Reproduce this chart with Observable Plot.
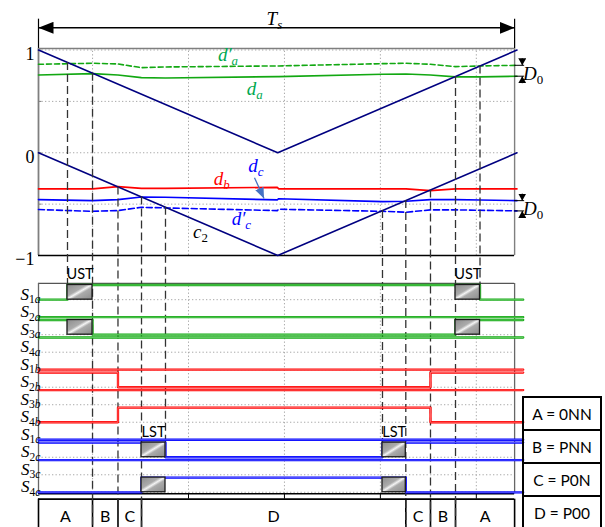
<!DOCTYPE html>
<html>
<head>
<meta charset="utf-8">
<script src="https://cdn.jsdelivr.net/npm/d3@7"></script>
<script src="https://cdn.jsdelivr.net/npm/@observablehq/plot@0.6"></script>
<style>
  html, body { margin: 0; padding: 0; background: #fff; }
  #figure { position: relative; width: 605px; height: 527px; overflow: hidden; background: #fff; }
  #figure > svg { position: absolute; left: 0; top: 0; overflow: visible; }
  #states { position: absolute; left: 522px; top: 396px; width: 80px; box-sizing: border-box;
            border-left: 2px solid #000; border-right: 2px solid #000;
            font-family: Lato, "Open Sans", sans-serif; font-size: 15.5px; color: #000; }
  #states div { box-sizing: border-box; height: 33px; border-top: 2px solid #000;
                display: flex; align-items: center; justify-content: center; white-space: pre; }
</style>
</head>
<body>
<div id="figure"></div>
<script>
// ---------------------------------------------------------------------------
// Data. Time is a fraction of the switching period Ts.
// ---------------------------------------------------------------------------
const gridT = [0.113, 0.3135, 0.514, 0.7145, 0.915];
const gridV = [-1, -0.5, 0, 0.5, 1];
const tickV = [1, 0, -1];
const tickText = ["1", "0", "\u22121"];

// triangular carriers (upper c1 and lower c2)
const carrierT = [0, 0.5, 1];
const carrierUpper = [1, 0, 1];
const carrierLower = [0, -1, 0];

// modulating signals sampled at the breakpoints of one period
const dutyT  = [0, 0.113, 0.166, 0.215, 0.265, 0.499, 0.502, 0.719, 0.768, 0.819, 0.8715, 0.923, 1];
const dutyA2 = [0.861, 0.871, 0.864, 0.828, 0.835, 0.845, 0.845, 0.867, 0.871, 0.861, 0.838, 0.845, 0.851];
const dutyA  = [0.757, 0.770, 0.757, 0.731, 0.728, 0.741, 0.741, 0.764, 0.767, 0.757, 0.738, 0.738, 0.745];
const dutyB  = [-0.352, -0.352, -0.330, -0.347, -0.347, -0.337, -0.352, -0.352, -0.352, -0.369, -0.352, -0.352, -0.352];
const dutyC  = [-0.456, -0.466, -0.456, -0.430, -0.433, -0.459, -0.447, -0.476, -0.472, -0.456, -0.456, -0.460, -0.466];
const dutyC2 = [-0.553, -0.570, -0.563, -0.531, -0.537, -0.563, -0.550, -0.570, -0.579, -0.556, -0.556, -0.560, -0.566];

// switching instants (carrier crossings), which carrier they sit on,
// and how far down the dashed marker runs
const switchNames   = ["a1", "a2", "b1", "c1", "c2", "c3", "c4", "b2", "a3", "a4"];
const switchT       = [0.0606, 0.1129, 0.1661, 0.2153, 0.2654, 0.7189, 0.7676, 0.8192, 0.8715, 0.9227];
const switchCarrier = ["upper", "upper", "lower", "lower", "lower", "lower", "lower", "lower", "upper", "upper"];
const switchReach   = ["S1a", "table", "table", "table", "S2c", "S2c", "table", "table", "table", "S1a"];

// gate signals
const signalNames   = ["S1a", "S2a", "S3a", "S4a", "S1b", "S2b", "S3b", "S4b", "S1c", "S2c", "S3c", "S4c"];
const signalLabels  = ["S_1a", "S_2a", "S_3a", "S_4a", "S_1b", "S_2b", "S_3b", "S_4b", "S_1c", "S_2c", "S_3c", "S_4c"];
const signalPhase   = ["a", "a", "a", "a", "b", "b", "b", "b", "c", "c", "c", "c"];
const signalStart   = [0, 0, 1, 1, 0, 1, 1, 0, 0, 1, 1, 0];
const signalToggles = [["a1", "a4"], [], ["a2", "a3"], [], [], ["b1", "b2"], [], ["b1", "b2"], [], ["c2", "c3"], [], ["c1", "c4"]];

// overlapping transition intervals
const boxLabel = ["UST", "UST", "LST", "LST"];
const boxFrom  = ["a1", "a3", "c1", "c3"];
const boxTo    = ["a2", "a4", "c2", "c4"];
const boxLanes = [["S1a", "S3a"], ["S1a", "S3a"], ["S2c", "S4c"], ["S2c", "S4c"]];

// switching states across the period
const stateNames = ["A", "B", "C", "D", "C", "B", "A"];
const stateEdges = ["a2", "b1", "c1", "c4", "b2", "a3"];
const legendText = ["A = 0NN", "B = PNN", "C = P0N", "D = P00"];

// ---------------------------------------------------------------------------
// Layout (y is in carrier units; the gate lanes continue below -1)
// ---------------------------------------------------------------------------
const frameEnd = 0.995;
const tail = 1.013;
const panelTop = 1.015;
const periodY = 1.216, periodTop = 1.30;
const laneLow0 = -1.430, lanePitch = 0.1704, laneSwing = 0.143;
const lane = (i, on) => laneLow0 - i * lanePitch + (on ? laneSwing : 0);
const laneIndex = Object.fromEntries(signalNames.map((n, i) => [n, i]));
const lowerTop = lane(0, 1) + 0.015;
const lowerBottom = lane(11, 0) - 0.015;
const tableTop = lane(11, 0) - 0.067;
const tableBottom = lane(11, 0) - 0.36;
const tableMid = lane(11, 0) - 0.236;

const green = "#12a812", greenText = "#00a850", red = "#ff0000", blue = "#0000ff", navy = "#000080";
const phaseColor = {a: "#14aa14", b: "#ff0000", c: "#0000ff"};
const phaseTint = {a: "#8fdc8f", b: "#ff9c9c", c: "#9090ff"};
const gridGray = "#a8a8a8", frameGray = "#7f7f7f";
const mathFont = "Liberation Serif, DejaVu Serif, serif";
const sansFont = "Lato, Open Sans, sans-serif";

// ---------------------------------------------------------------------------
// Derived rows
// ---------------------------------------------------------------------------
const tOf = Object.fromEntries(switchNames.map((n, i) => [n, switchT[i]]));
const carrierAt = {
  upper: d3.scaleLinear(carrierT, carrierUpper),
  lower: d3.scaleLinear(carrierT, carrierLower)
};
const series = (values) => dutyT.map((t, i) => ({t, v: values[i]}));
const carrierRows = (values) => carrierT.map((t, i) => ({t, v: values[i]}));

const switches = switchNames.map((n, i) => ({
  t: switchT[i],
  from: carrierAt[switchCarrier[i]](switchT[i]),
  to: switchReach[i] === "table" ? tableBottom : lane(laneIndex[switchReach[i]], 1)
}));

const signalPoints = (phase) => signalNames.flatMap((name, i) => {
  if (signalPhase[i] !== phase) return [];
  let s = signalStart[i];
  const pts = [{name, t: 0, y: lane(i, s)}];
  for (const k of signalToggles[i]) { s = 1 - s; pts.push({name, t: tOf[k], y: lane(i, s)}); }
  pts.push({name, t: tail, y: lane(i, s)});
  return pts;
});

const boxes = boxLabel.flatMap((label, k) => boxLanes[k].map((nm, j) => ({
  label: j === 0 ? label : null,
  x1: tOf[boxFrom[k]], x2: tOf[boxTo[k]],
  y1: lane(laneIndex[nm], 0), y2: lane(laneIndex[nm], 1)
})));

const edges = [0, ...stateEdges.map((k) => tOf[k]), frameEnd];
const states = stateNames.map((s, i) => ({s, x1: edges[i], x2: edges[i + 1]}));

const last = (a) => a[a.length - 1];
const d0Pairs = [[last(dutyA2), last(dutyA)], [last(dutyC), last(dutyC2)]];

// ---------------------------------------------------------------------------
// Marks
// ---------------------------------------------------------------------------
const dotted = {stroke: gridGray, strokeWidth: 1, strokeDasharray: "1.3,2.2"};

const svg = Plot.plot({
  width: 605,
  height: 527,
  x: {domain: [0, 1], range: [38, 516.5], axis: null},
  y: {domain: [-1, 1], range: [255, 49.5], axis: null},
  style: {background: "white", overflow: "visible"},
  marks: [
    // grids
    Plot.ruleY(gridV, {x1: 0, x2: frameEnd, ...dotted}),
    Plot.ruleX(gridT, {y1: -1, y2: panelTop, ...dotted}),
    Plot.ruleY(signalNames.map((_, i) => lane(i, 0)), {x1: 0, x2: frameEnd, ...dotted}),
    Plot.ruleX(gridT, {y1: lowerBottom, y2: lowerTop, ...dotted}),

    // upper panel frame
    Plot.ruleY([panelTop], {x1: 0, x2: frameEnd, stroke: frameGray, strokeWidth: 1.4}),
    Plot.ruleX([frameEnd], {y1: -1, y2: panelTop, stroke: frameGray, strokeWidth: 1.4}),
    Plot.ruleX([0], {y1: -1, y2: panelTop, stroke: frameGray, strokeWidth: 1.8}),
    Plot.ruleY(gridV, {x1: 0, x2: 0.007, stroke: frameGray, strokeWidth: 1}),
    Plot.ruleY([-1], {x1: 0, x2: frameEnd, stroke: "#000", strokeWidth: 1.4}),

    // lower panel frame, axis ticks and state table
    Plot.ruleY([lowerTop], {x1: 0, x2: frameEnd, stroke: "#555", strokeWidth: 1.3}),
    Plot.ruleX([0, frameEnd], {y1: lowerBottom, y2: lowerTop, stroke: "#666", strokeWidth: 1.3}),
    Plot.ruleY([lowerBottom], {x1: 0, x2: frameEnd, stroke: "#000", strokeWidth: 1.4}),
    Plot.ruleX(gridT, {y1: lowerBottom, y2: tableTop, stroke: "#000", strokeWidth: 1}),
    Plot.ruleY([tableTop], {x1: 0, x2: frameEnd, stroke: "#000", strokeWidth: 1.8}),
    Plot.ruleX(edges, {y1: tableTop, y2: tableBottom, stroke: "#000", strokeWidth: 1.6}),

    // period marker
    Plot.ruleX([0, frameEnd], {y1: panelTop, y2: periodTop, stroke: "#000", strokeWidth: 1.2}),
    Plot.link([0], {x1: 0, x2: frameEnd, y1: periodY, y2: periodY, stroke: "#000", strokeWidth: 1.4, ariaDescription: "period"}),

    // modulating signals
    Plot.line(series(dutyA2), {x: "t", y: "v", stroke: green, strokeWidth: 1.6, strokeDasharray: "5,3"}),
    Plot.line(series(dutyA), {x: "t", y: "v", stroke: green, strokeWidth: 1.6}),
    Plot.line(series(dutyB), {x: "t", y: "v", stroke: red, strokeWidth: 1.6}),
    Plot.line(series(dutyC), {x: "t", y: "v", stroke: blue, strokeWidth: 1.6}),
    Plot.line(series(dutyC2), {x: "t", y: "v", stroke: blue, strokeWidth: 1.6, strokeDasharray: "6,3"}),

    // carriers
    Plot.line(carrierRows(carrierUpper), {x: "t", y: "v", stroke: navy, strokeWidth: 1.6}),
    Plot.line(carrierRows(carrierLower), {x: "t", y: "v", stroke: navy, strokeWidth: 1.6}),

    // D0 offset markers
    Plot.ruleY(d0Pairs.flat(), {x1: frameEnd, x2: 1.016, stroke: "#000", strokeWidth: 1}),
    Plot.link(d0Pairs, {x1: 1.011, x2: 1.011, y1: (p) => p[0] + 0.068, y2: (p) => p[0], stroke: "#000", strokeWidth: 1, ariaDescription: "d0"}),
    Plot.link(d0Pairs, {x1: 1.011, x2: 1.011, y1: (p) => p[1] - 0.068, y2: (p) => p[1], stroke: "#000", strokeWidth: 1, ariaDescription: "d0"}),
    Plot.text(d0Pairs, {x: 1.0125, y: (p) => Math.min(...p), text: () => "D_0", textAnchor: "start", dy: -2,
      fontFamily: mathFont, fontSize: 19, ariaDescription: "math"}),

    // switching instants
    Plot.ruleX(switches, {x: "t", y1: "from", y2: "to", stroke: "#333", strokeWidth: 1.3, strokeDasharray: "8,4"}),

    // gate signals (coloured edge with a pale core)
    ...["a", "b", "c"].flatMap((p) => [
      Plot.line(signalPoints(p), {x: "t", y: "y", z: "name", curve: "step-after", stroke: phaseColor[p], strokeWidth: 2.3}),
      Plot.line(signalPoints(p), {x: "t", y: "y", z: "name", curve: "step-after", stroke: phaseTint[p], strokeWidth: 0.6})
    ]),

    // overlap intervals
    Plot.rect(boxes, {x1: "x1", x2: "x2", y1: "y1", y2: "y2", fill: "url(#hatch)", stroke: "#1a1a1a", strokeWidth: 1.3}),
    Plot.text(boxes.filter((b) => b.label), {x: (b) => (b.x1 + b.x2) / 2, y: "y2", text: "label", lineAnchor: "bottom",
      dy: -6, fontFamily: sansFont, fontSize: 14.5, fill: "#000"}),

    // state names
    Plot.text(states, {x: (d) => (d.x1 + d.x2) / 2, y: tableMid, text: "s", fontFamily: sansFont, fontSize: 16, fill: "#000"}),

    // axis labels
    Plot.text(tickV, {x: 0, y: (d) => d, text: (d, i) => tickText[i], textAnchor: "end", dx: -4, dy: 4,
      fontFamily: mathFont, fontSize: 18}),
    Plot.text(signalLabels, {x: 0, y: (d, i) => lane(i, 0), text: (d) => d, textAnchor: "end", lineAnchor: "bottom",
      dx: 2, dy: 0, fontFamily: mathFont, fontSize: 17, ariaDescription: "math"}),

    // curve names
    Plot.text(["T_s"], {x: 0.493, y: 1.306, text: (d) => d, fontFamily: mathFont, fontSize: 19, ariaDescription: "math"}),
    Plot.text(["d\u2032_a"], {x: 0.396, y: 0.956, text: (d) => d, fill: greenText, fontFamily: mathFont, fontSize: 19, ariaDescription: "math"}),
    Plot.text(["d_a"], {x: 0.452, y: 0.621, text: (d) => d, fill: greenText, fontFamily: mathFont, fontSize: 19, ariaDescription: "math"}),
    Plot.text(["d_b"], {x: 0.383, y: -0.252, text: (d) => d, fill: red, fontFamily: mathFont, fontSize: 19, ariaDescription: "math"}),
    Plot.text(["d_c"], {x: 0.4545, y: -0.131, text: (d) => d, fill: blue, fontFamily: mathFont, fontSize: 19, ariaDescription: "math"}),
    Plot.text(["d\u2032_c"], {x: 0.424, y: -0.646, text: (d) => d, fill: blue, fontFamily: mathFont, fontSize: 19, ariaDescription: "math"}),
    Plot.text(["c_2"], {x: 0.3386, y: -0.772, text: (d) => d, fill: "#000", fontFamily: mathFont, fontSize: 19, ariaDescription: "math"}),
    Plot.link([0], {x1: 0.4514, y1: -0.243, x2: 0.4713, y2: -0.445, stroke: "#4472c4", strokeWidth: 1.3, ariaDescription: "pointer"})
  ]
});

// ---------------------------------------------------------------------------
// SVG definitions: hatch fill and filled arrowheads
// ---------------------------------------------------------------------------
const root = d3.select(svg);
const defs = root.insert("defs", ":first-child");
const grad = defs.append("linearGradient").attr("id", "hatch")
  .attr("x1", 0).attr("y1", 0).attr("x2", 1).attr("y2", 1);
[[0, "#8c8c8c"], [0.4, "#ababab"], [0.5, "#f4f4f4"], [0.6, "#ababab"], [1, "#8c8c8c"]]
  .forEach(([o, c]) => grad.append("stop").attr("offset", o).attr("stop-color", c));

function arrowHead(id, length, width, color) {
  defs.append("marker").attr("id", id)
    .attr("viewBox", "0 0 10 10").attr("refX", 10).attr("refY", 5)
    .attr("markerUnits", "userSpaceOnUse").attr("markerWidth", length).attr("markerHeight", width)
    .attr("preserveAspectRatio", "none").attr("orient", "auto-start-reverse")
    .append("path").attr("d", "M0,0L10,5L0,10Z").attr("fill", color);
}
arrowHead("head-period", 15, 12, "#000");
arrowHead("head-d0", 7, 8, "#000");
arrowHead("head-pointer", 11, 9, "#4472c4");
root.selectAll('g[aria-description="period"] path')
  .attr("marker-start", "url(#head-period)").attr("marker-end", "url(#head-period)");
root.selectAll('g[aria-description="d0"] path').attr("marker-end", "url(#head-d0)");
root.selectAll('g[aria-description="pointer"] path').attr("marker-end", "url(#head-pointer)");

// math-style labels: italic base, smaller subscript (digits upright)
root.selectAll('g[aria-description="math"] text').each(function () {
  const raw = this.textContent;
  if (!raw.includes("_")) return;
  const [base, sub] = raw.split("_");
  this.textContent = "";
  const t = d3.select(this);
  t.append("tspan").attr("font-style", "italic").text(base);
  const s = t.append("tspan").attr("font-size", "0.68em").attr("dy", "0.32em");
  for (const ch of sub) s.append("tspan").attr("font-style", /[0-9]/.test(ch) ? "normal" : "italic").text(ch);
});

const fig = document.getElementById("figure");
fig.appendChild(svg);

// state legend
const legend = d3.select(fig).append("div").attr("id", "states");
legend.selectAll("div").data(legendText).join("div").text((d) => d);
</script>
</body>
</html>
